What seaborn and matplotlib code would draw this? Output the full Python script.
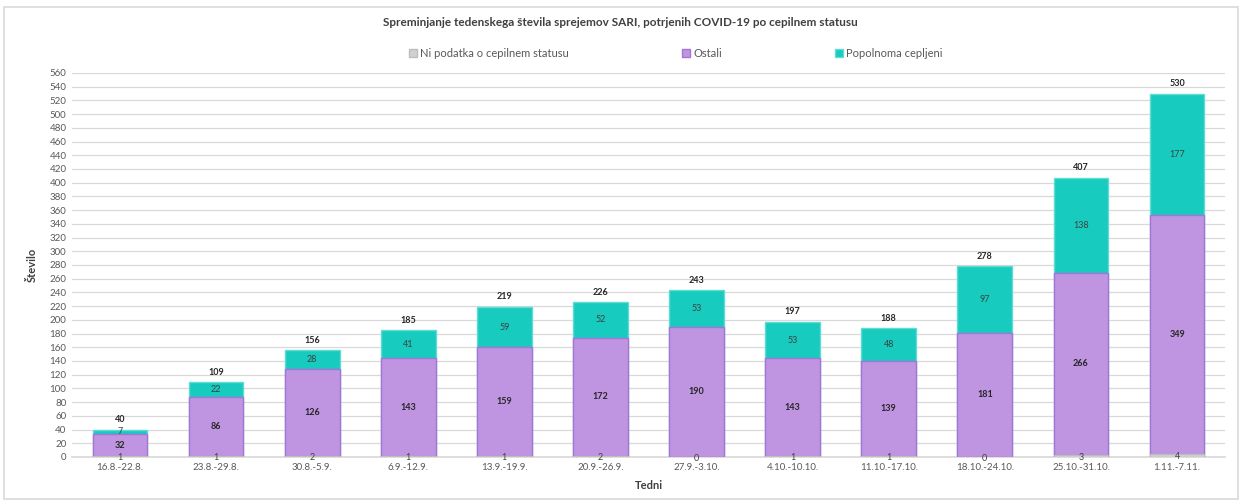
import numpy as np
import pandas as pd
import matplotlib
matplotlib.use("Agg")
import matplotlib.pyplot as plt
import seaborn as sns
from matplotlib.patches import Rectangle, Patch

# podatki
tedni = ["16.8.-22.8.", "23.8.-29.8.", "30.8.-5.9.", "6.9.-12.9.", "13.9.-19.9.",
         "20.9.-26.9.", "27.9.-3.10.", "4.10.-10.10.", "11.10.-17.10.",
         "18.10.-24.10.", "25.10.-31.10.", "1.11.-7.11."]
ni_podatka = [1, 1, 2, 1, 1, 2, 0, 1, 1, 0, 3, 4]
ostali = [32, 86, 126, 143, 159, 172, 190, 143, 139, 181, 266, 349]
popolnoma = [7, 22, 28, 41, 59, 52, 53, 53, 48, 97, 138, 177]

serije = ["Ni podatka o cepilnem statusu", "Ostali", "Popolnoma cepljeni"]
barve = {"Ni podatka o cepilnem statusu": "#D0D0D0", "Ostali": "#BF94E0",
         "Popolnoma cepljeni": "#17CBBF"}
robovi = {"Ni podatka o cepilnem statusu": "#BDBDBD", "Ostali": "#A873D6",
          "Popolnoma cepljeni": "#5FDDD5"}

df = pd.DataFrame({"teden": tedni, "ni": ni_podatka, "ostali": ostali, "popolnoma": popolnoma})
df["sp_ostali"] = df["ni"] + df["ostali"]
df["skupaj"] = df["sp_ostali"] + df["popolnoma"]

sns.set_theme(style="white")
plt.rcParams["font.family"] = ["Lato", "DejaVu Sans"]

fig = plt.figure(figsize=(12.4, 5), dpi=100)
ax = fig.add_axes([0.058, 0.086, 0.93, 0.768])

# zlozeni stolpci: najprej vsota, nato spodnji deli
sns.barplot(data=df, x="teden", y="skupaj", color=barve["Popolnoma cepljeni"],
            edgecolor=robovi["Popolnoma cepljeni"], linewidth=1, width=0.57,
            saturation=1, ax=ax, zorder=2)
sns.barplot(data=df, x="teden", y="sp_ostali", color=barve["Ostali"],
            edgecolor=robovi["Ostali"], linewidth=1, width=0.57,
            saturation=1, ax=ax, zorder=3)
sns.barplot(data=df, x="teden", y="ni", color=barve["Ni podatka o cepilnem statusu"],
            edgecolor=robovi["Ni podatka o cepilnem statusu"], linewidth=0.8, width=0.57,
            saturation=1, ax=ax, zorder=4)

# oznake vrednosti
for i, r in df.iterrows():
    ax.text(i, r["ni"] / 2 - 1.5, str(r["ni"]), ha="center", va="center",
            fontsize=6.5, color="#404040", zorder=5)
    ax.text(i, r["ni"] + r["ostali"] / 2, str(r["ostali"]), ha="center", va="center",
            fontsize=6.5, color="#262626", fontweight="bold", zorder=5)
    ax.text(i, r["sp_ostali"] + r["popolnoma"] / 2, str(r["popolnoma"]), ha="center",
            va="center", fontsize=6.5, color="#404040", zorder=5)
    ax.text(i, r["skupaj"] + 8, str(r["skupaj"]), ha="center", va="bottom",
            fontsize=6.5, color="#262626", fontweight="bold", zorder=5)

ax.set_ylim(0, 560)
ax.set_xlim(-0.5, len(tedni) - 0.5)
ax.set_yticks(np.arange(0, 561, 20))
ax.yaxis.grid(True, color="#D9D9D9", linewidth=0.9, zorder=0)
ax.set_axisbelow(True)
for s in ["top", "right", "left"]:
    ax.spines[s].set_visible(False)
ax.spines["bottom"].set_color("#D9D9D9")
ax.tick_params(axis="both", labelsize=7, colors="#595959", length=0, pad=4)
ax.set_xlabel("Tedni", fontsize=8, fontweight="bold", color="#404040", labelpad=6)
ax.set_ylabel("Število", fontsize=8, fontweight="bold", color="#404040", labelpad=8)

fig.text(0.5, 0.955, "Spreminjanje tedenskega števila sprejemov SARI, potrjenih COVID-19 po cepilnem statusu",
         ha="center", va="center", fontsize=8.5, fontweight="bold", color="#404040")

rocaji = [Patch(facecolor=barve[s], edgecolor=robovi[s]) for s in serije]
fig.legend(rocaji, serije, loc="center", bbox_to_anchor=(0.545, 0.893), ncol=3, frameon=False,
           fontsize=8, handlelength=0.7, handleheight=0.7, handletextpad=0.3,
           columnspacing=10.2, labelcolor="#595959")

fig.patches.append(Rectangle((0.003, 0.002), 0.995, 0.985, transform=fig.transFigure,
                             fill=False, edgecolor="#D9D9D9", linewidth=1.2))

fig.savefig("out.png", dpi=100, facecolor="white")
